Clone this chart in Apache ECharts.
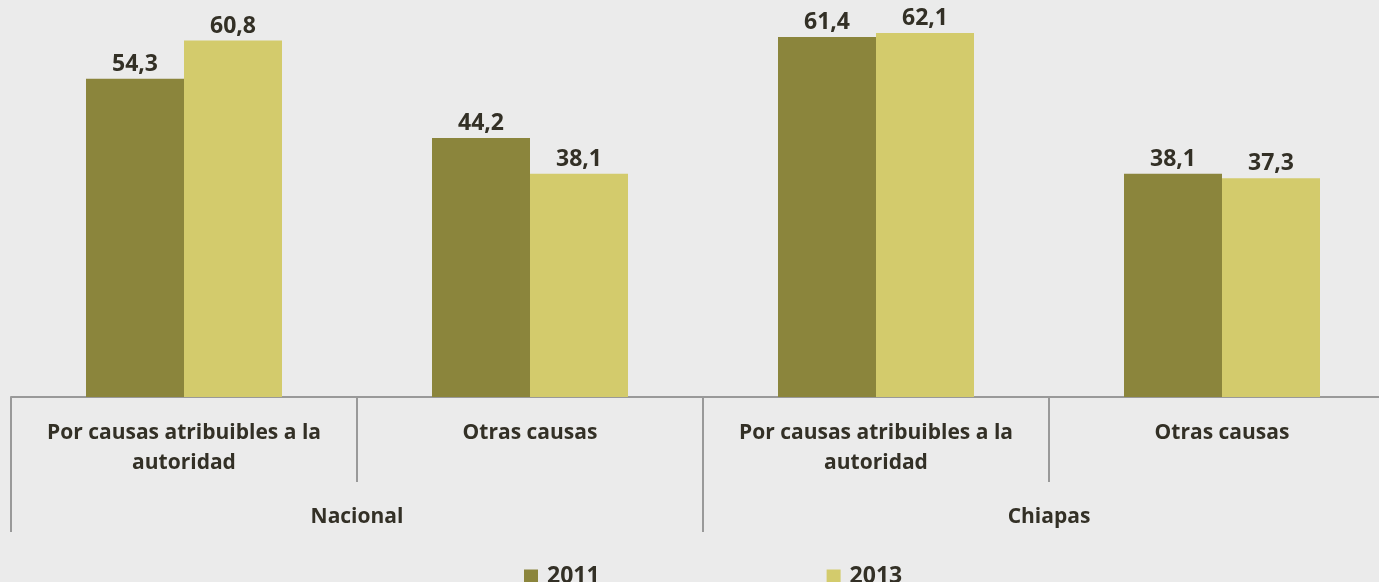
<!DOCTYPE html>
<html>
<head>
<meta charset="utf-8">
<title>Chart</title>
<script src="https://cdn.jsdelivr.net/npm/echarts@6/dist/echarts.min.js"></script>
<style>
  html, body { margin: 0; padding: 0; background: #ebebeb; }
  #main { width: 1379px; height: 582px; }
</style>
</head>
<body>
<div id="main"></div>
<script>
// datos
var categorias = ['Por causas atribuibles a la\nautoridad', 'Otras causas', 'Por causas atribuibles a la\nautoridad', 'Otras causas'];
var grupos = ['Nacional', 'Chiapas'];
var serie2011 = [54.3, 44.2, 61.4, 38.1];
var serie2013 = [60.8, 38.1, 62.1, 37.3];

var fuente = 'Open Sans';
var colorTexto = '#333026';

function fmt(p) {
  return p.value.toFixed(1).replace('.', ',');
}

var chart = echarts.init(document.getElementById('main'));
var option = {
  backgroundColor: '#ebebeb',
  animation: false,
  textStyle: { fontFamily: fuente },
  grid: { left: 11, width: 1384, top: 16, height: 381, containLabel: false, outerBoundsMode: 'none' },
  legend: {
    data: ['2011', '2013'],
    left: 519,
    top: 560,
    itemGap: 227,
    itemWidth: 14,
    itemHeight: 14,
    icon: 'rect',
    textStyle: { fontFamily: fuente, fontWeight: 'bold', fontSize: 23, color: colorTexto, padding: [0, 0, 0, 4] }
  },
  xAxis: [{
    type: 'category',
    data: categorias,
    axisLine: { lineStyle: { color: '#999999', width: 2 } },
    axisTick: { show: true, length: 85, lineStyle: { color: '#999999', width: 2 } },
    axisLabel: {
      interval: 0, margin: 21, lineHeight: 30,
      fontFamily: fuente, fontWeight: 'bold', fontSize: 21, color: colorTexto
    }
  }, {
    type: 'category',
    data: grupos,
    position: 'bottom',
    axisLine: { show: false },
    axisTick: { show: true, length: 135, lineStyle: { color: '#999999', width: 2 } },
    axisLabel: {
      interval: 0, margin: 110,
      fontFamily: fuente, fontWeight: 'bold', fontSize: 21, color: colorTexto
    }
  }],
  yAxis: {
    type: 'value',
    min: 0,
    max: 65,
    show: false,
    splitLine: { show: false }
  },
  series: [{
    name: '2011',
    type: 'bar',
    xAxisIndex: 0,
    data: serie2011,
    barWidth: 98,
    barGap: '0%',
    itemStyle: { color: '#8b853c' },
    label: { show: true, position: 'top', distance: 3, formatter: fmt,
      fontFamily: fuente, fontWeight: 'bold', fontSize: 23, color: colorTexto }
  }, {
    name: '2013',
    type: 'bar',
    xAxisIndex: 0,
    data: serie2013,
    barWidth: 98,
    barGap: '0%',
    itemStyle: { color: '#d3cb6c' },
    label: { show: true, position: 'top', distance: 3, formatter: fmt,
      fontFamily: fuente, fontWeight: 'bold', fontSize: 23, color: colorTexto }
  }]
};
chart.setOption(option);
</script>
</body>
</html>
